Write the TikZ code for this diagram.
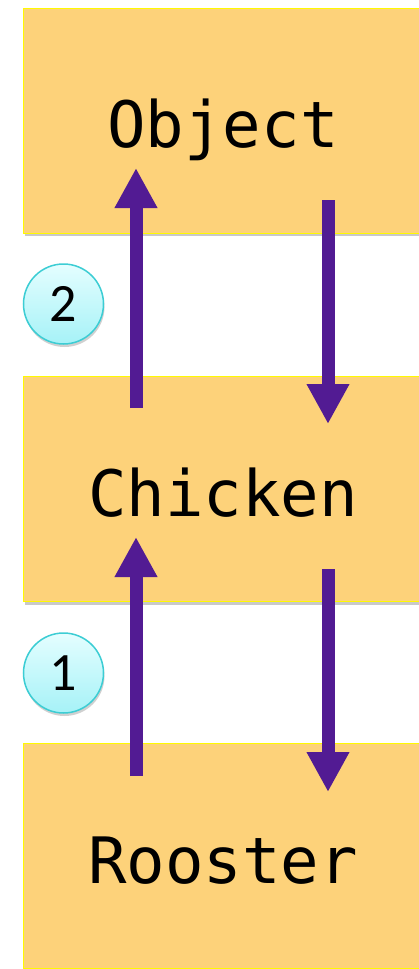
\documentclass[tikz,border=0pt]{standalone}
\usepackage{fontspec}
\newfontfamily\monofont{DejaVu Sans Mono}
\newfontfamily\numfont{Carlito}
\usetikzlibrary{arrows.meta,shadows}
\definecolor{boxfill}{RGB}{253,210,122}
\definecolor{boxline}{RGB}{255,250,0}
\definecolor{arrowc}{RGB}{82,27,147}
\definecolor{circline}{RGB}{60,205,212}
\definecolor{circtop}{RGB}{228,254,255}
\definecolor{circbot}{RGB}{166,242,247}
\begin{document}
\begin{tikzpicture}[x=1pt,y=-1pt,
  classbox/.style={draw=boxline, line width=1pt, fill=boxfill,
    minimum width=400pt, minimum height=225pt, inner sep=0pt,
    font=\monofont\fontsize{64}{68}\selectfont, text height=54pt, text depth=0pt,
    drop shadow={shadow xshift=2pt, shadow yshift=-3pt, opacity=0.35, fill=black!60}},
  stepnum/.style={circle, draw=circline, line width=1.5pt, top color=circtop, bottom color=circbot,
    minimum size=80pt, inner sep=0pt, font=\numfont\fontsize{54}{58}\selectfont,
    drop shadow={shadow xshift=1pt, shadow yshift=-3pt, opacity=0.3, fill=black!60}},
  flow/.style={draw=arrowc, line width=13pt, -{Triangle[width=40pt,length=40pt]}}]
\useasboundingbox (0,0) rectangle (419,969);
\clip (0,0) rectangle (419,969);
\fill[white] (0,0) rectangle (419,969);
\node[classbox] (object) at (223,120.5) {Object};
\node[classbox] (chicken) at (223,489) {Chicken};
\node[classbox] (rooster) at (223,856) {Rooster};
\node[stepnum] (n2) at (63.5,304) {2};
\node[stepnum] (n1) at (63.5,673) {1};
\coordinate (u2s) at (136,408);
\coordinate (u2t) at (136,168);
\coordinate (d2s) at (328,200);
\coordinate (d2t) at (328,424);
\coordinate (u1s) at (136,776);
\coordinate (u1t) at (136,537);
\coordinate (d1s) at (328,569);
\coordinate (d1t) at (328,792);
\draw[flow] (u2s) -- (u2t);
\draw[flow] (d2s) -- (d2t);
\draw[flow] (u1s) -- (u1t);
\draw[flow] (d1s) -- (d1t);
\end{tikzpicture}
\end{document}
